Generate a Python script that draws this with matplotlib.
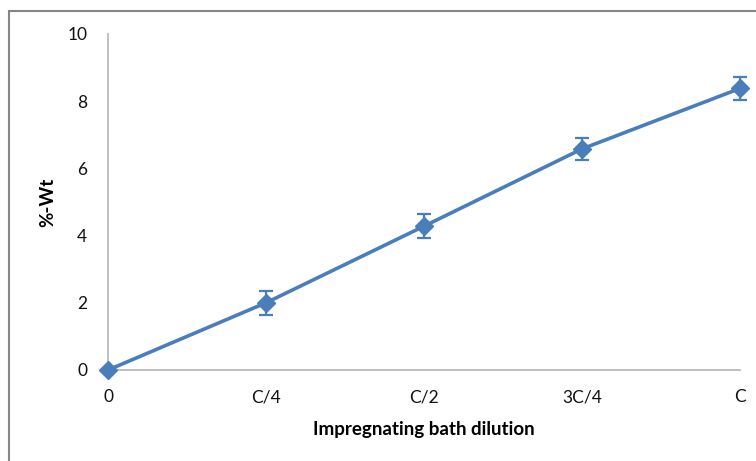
import matplotlib.pyplot as plt
from matplotlib.patches import Rectangle

# impregnation results
dilutions = ["0", "C/4", "C/2", "3C/4", "C"]
wt_pct = [0.0, 2.0, 4.28, 6.58, 8.38]
wt_err = [0.0, 0.35, 0.35, 0.33, 0.33]
y_ticks = [0, 2, 4, 6, 8, 10]

blue = "#4A7EBB"
plt.rcParams["font.family"] = ["Lato", "DejaVu Sans"]

fig = plt.figure(figsize=(7.56, 4.61), dpi=100)
ax = fig.add_axes([108 / 756, 1 - 370 / 461, (740 - 108) / 756, (370 - 34) / 461])

x = list(range(len(dilutions)))
ax.errorbar(x, wt_pct, yerr=wt_err, color=blue, lw=2.6, marker="D", ms=9,
            ecolor=blue, elinewidth=1.6, capsize=5, capthick=1.6, clip_on=False, zorder=3)

ax.set_xlim(0, 4)
ax.set_ylim(0, 10)
ax.set_xticks(x)
ax.set_xticklabels(dilutions)
ax.set_yticks(y_ticks)
ax.tick_params(axis="both", length=0, labelsize=12.5, colors="#111111")
ax.tick_params(axis="y", pad=15)
ax.tick_params(axis="x", pad=14)

for side in ["top", "right"]:
    ax.spines[side].set_visible(False)
for side in ["left", "bottom"]:
    ax.spines[side].set_color("#B4B4B4")
    ax.spines[side].set_linewidth(1.2)

ax.set_xlabel("Impregnating bath dilution", fontsize=13.5, fontweight="bold", labelpad=11)
ax.set_ylabel("%-Wt", fontsize=13.5, fontweight="bold", labelpad=8)

# chart-area frame
fig.patches.append(Rectangle((9 / 756, -0.05), 1.0, 1 - 11 / 461 + 0.05, transform=fig.transFigure,
                             fill=False, edgecolor="#868686", lw=1.5))

fig.savefig("out.png", dpi=100)
